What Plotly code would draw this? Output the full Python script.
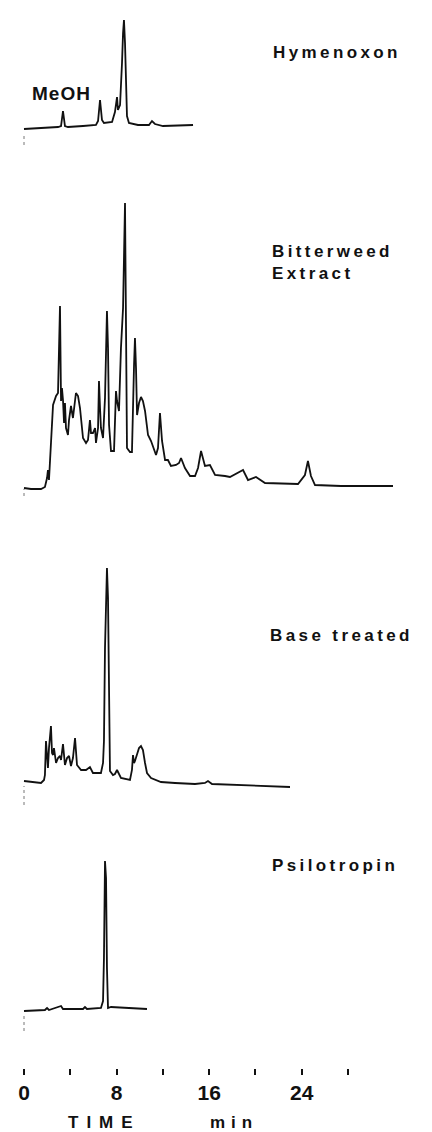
import plotly.graph_objects as go

# ---------------- data (time in min, detector signal in arbitrary units) -------------
hym_t = [0, 1.21, 2.94, 3.20, 3.37, 3.54, 3.80, 5.10, 6.22, 6.40, 6.57, 6.74, 6.91, 7.61,
         7.86, 8.04, 8.12, 8.30, 8.38, 8.47, 8.56, 8.64, 8.73, 8.82, 8.90, 9.07, 9.85,
         10.80, 11.06, 11.32, 12.01, 14.61]
hym_v = [-1, 0, 1, 2, 17, 2, 1, 2, 3, 7, 28, 8, 5, 6,
         16, 31, 18, 23, 40, 65, 95, 108, 85, 40, 12, 5, 3,
         3, 7, 4, 2, 3]

bit_t = [0, 0.60, 1.47, 1.81, 1.99, 2.07, 2.16, 2.33, 2.51, 2.77, 2.94, 3.11, 3.20, 3.28,
         3.37, 3.46, 3.54, 3.63, 3.80, 3.89, 4.06, 4.23, 4.49, 4.67, 4.84, 5.10, 5.36,
         5.53, 5.70, 5.79, 5.96, 6.14, 6.22, 6.40, 6.48, 6.57, 6.65, 6.83, 7.00, 7.17,
         7.26, 7.35, 7.52, 7.78, 7.95, 8.04, 8.21, 8.38, 8.56, 8.73, 8.82, 8.90, 9.16,
         9.33, 9.51, 9.59, 9.68, 9.77, 9.94, 10.11, 10.28, 10.46, 10.72, 10.98, 11.41,
         11.58, 11.75, 11.93, 12.19, 12.44, 12.70, 13.14, 13.40, 13.57, 13.91, 14.35,
         14.78, 15.04, 15.30, 15.64, 16.07, 16.51, 17.37, 17.80, 18.93, 19.36, 20.05,
         20.83, 23.68, 24.28, 24.54, 24.80, 25.15, 27.40, 31.89]
bit_v = [0, -1, -1, 1, 10, 18, 8, 50, 83, 92, 95, 182, 87, 100,
         88, 65, 85, 60, 53, 68, 82, 70, 95, 92, 80, 50, 45,
         48, 68, 55, 55, 60, 45, 60, 107, 80, 60, 50, 90, 177,
         140, 63, 37, 37, 97, 87, 77, 140, 180, 285, 140, 40, 36,
         36, 123, 150, 120, 73, 85, 91, 87, 77, 53, 47, 33,
         40, 75, 47, 28, 28, 22, 23, 25, 30, 20, 12,
         12, 20, 37, 22, 23, 13, 12, 11, 18, 8, 11,
         5, 4, 13, 27, 12, 3, 2, 2]

base_t = [0, 1.47, 1.73, 1.81, 1.90, 1.99, 2.07, 2.16, 2.33, 2.42, 2.51, 2.59, 2.77, 2.94,
          3.11, 3.20, 3.37, 3.54, 3.72, 3.89, 4.06, 4.23, 4.41, 4.58, 4.93, 5.36, 5.70,
          5.96, 6.65, 6.83, 6.91, 7.00, 7.17, 7.26, 7.35, 7.43, 7.69, 7.86, 8.04, 8.21,
          8.38, 9.16, 9.33, 9.42, 9.51, 9.59, 9.77, 9.94, 10.11, 10.28, 10.46, 10.63,
          10.98, 11.84, 13.05, 14.78, 15.64, 15.90, 16.25, 18.75, 22.99]
base_v = [2, 0, 3, 8, 42, 25, 15, 35, 57, 30, 28, 35, 20, 25,
          27, 23, 39, 18, 25, 27, 17, 25, 45, 18, 13, 13, 16,
          10, 10, 20, 42, 135, 215, 185, 75, 12, 8, 9, 13, 9,
          5, 3, 13, 28, 20, 22, 30, 35, 37, 33, 20, 10,
          5, 1, 0, -1, 0, 2, -1, -2, -4]

psi_t = [0, 1.81, 1.99, 2.16, 3.20, 3.37, 5.10, 5.27, 5.44, 6.65, 6.83, 6.91, 7.00, 7.09,
         7.17, 7.26, 7.52, 8.99, 10.63]
psi_v = [0, 1, 3, 1, 5, 2, 2, 4, 2, 3, 10, 53, 150, 133,
         43, 3, 4, 3, 2]

# injection marks (time 0, extent below baseline)
inj_low = [-17, -8, -22, -20]
inj_high = [-5, -1, -3, -4]

labels = ["Hymenoxon", "Bitterweed<br>Extract", "Base treated", "Psilotropin"]
tick_vals = [0, 4, 8, 12, 16, 20, 24, 28]
tick_text = ["0", "", "8", "", "16", "", "24", ""]

# ---------------- layout helpers ----------------
W, H = 432, 1132
X0, PPM = 16.0, 11.571  # pixel of t=0, pixels per minute


def py(p):
    return 1 - p / H


panels = [  # (top px, bottom px, range)
    (0, 138, [-18, 120]),
    (150, 495, [-15, 330]),
    (530, 800, [-25, 245]),
    (830, 1030, [-27, 173]),
]

series = [(hym_t, hym_v), (bit_t, bit_v), (base_t, base_v), (psi_t, psi_v)]

fig = go.Figure()
for i, (t, v) in enumerate(series):
    ya = "y" if i == 0 else f"y{i + 1}"
    fig.add_trace(go.Scatter(x=t, y=v, mode="lines", xaxis="x", yaxis=ya,
                             line=dict(color="#111111", width=1.8),
                             hoverinfo="skip"))
    fig.add_trace(go.Scatter(x=[0, 0], y=[inj_low[i], inj_high[i]], mode="lines",
                             xaxis="x", yaxis=ya,
                             line=dict(color="#777777", width=1, dash="dot"),
                             hoverinfo="skip"))

layout = dict(
    width=W, height=H,
    margin=dict(l=0, r=0, t=0, b=0),
    paper_bgcolor="white", plot_bgcolor="white",
    showlegend=False,
    xaxis=dict(domain=[0, 1], range=[-X0 / PPM, (W - X0) / PPM],
               anchor="free", position=py(1060),
               showgrid=False, zeroline=False, showline=False,
               ticks="outside", ticklen=6, tickwidth=2, tickcolor="#111111",
               tickvals=tick_vals, ticktext=tick_text,
               tickfont=dict(family="Liberation Sans, Arial", size=21,
                             color="#111111", weight="bold")),
)
for i, (top, bot, rng) in enumerate(panels):
    key = "yaxis" if i == 0 else f"yaxis{i + 1}"
    layout[key] = dict(domain=[py(bot), py(top)], range=rng, visible=False,
                       anchor="free", position=0, fixedrange=True)
fig.update_layout(**layout)

FONT = dict(family="Liberation Sans, Arial", size=17, color="#111111", weight="bold")


def spaced(s, px):
    return f'<span style="letter-spacing:{px}px">{s}</span>'


ann = [
    (22, 86, spaced("MeOH", 1), 19, "middle"),
    (263, 45, spaced(labels[0], 3.4), 17, "middle"),
    (262, 254, spaced("Bitterweed", 3.4) + "<br>" + spaced("Extract", 3.4), 17, "middle"),
    (260, 627, spaced(labels[2], 3.4), 17, "middle"),
    (262, 858, spaced(labels[3], 3.4), 17, "middle"),
    (58, 1114, spaced("TIME", 8), 17, "middle"),
    (200, 1114, spaced("min", 6), 17, "middle"),
]
for x, y, txt, size, yanc in ann:
    f = dict(FONT)
    f["size"] = size
    fig.add_annotation(x=x / W, y=py(y), xref="paper", yref="paper",
                       xanchor="left", yanchor=yanc, text=txt,
                       showarrow=False, font=f, align="left")

fig.write_html("out.html")
